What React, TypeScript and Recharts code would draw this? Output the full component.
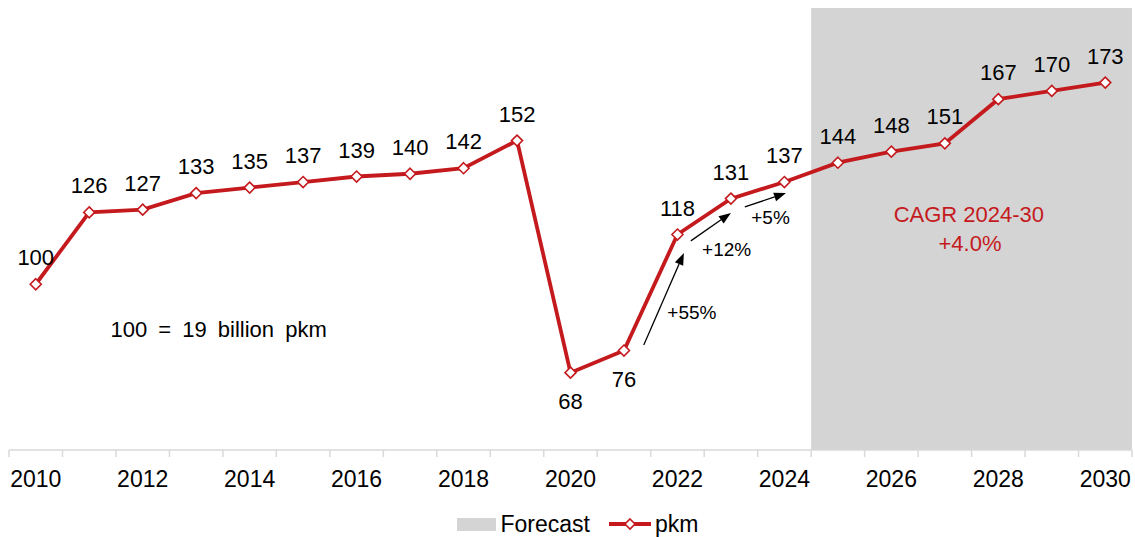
import {
  ComposedChart,
  Line,
  XAxis,
  YAxis,
  ReferenceArea,
  ReferenceLine,
  ReferenceDot,
  LabelList,
  Legend,
} from "recharts";

const years = [
  2010, 2011, 2012, 2013, 2014, 2015, 2016, 2017, 2018, 2019, 2020, 2021, 2022,
  2023, 2024, 2025, 2026, 2027, 2028, 2029, 2030,
];
const pkm = [
  100, 126, 127, 133, 135, 137, 139, 140, 142, 152, 68, 76, 118, 131, 137, 144,
  148, 151, 167, 170, 173,
];
const yearLabels = [2010, 2012, 2014, 2016, 2018, 2020, 2022, 2024, 2026, 2028, 2030];
const forecastYears = [2025, 2026, 2027, 2028, 2029, 2030];
const labelsBelow = [2020, 2021];

// growth arrows, in data coordinates (year, index value)
const growthArrows = [
  { label: "+55%", from: [2021.37, 78], to: [2022.12, 111.3], at: [2022.27, 89.6] },
  { label: "+12%", from: [2022.25, 115.7], to: [2023.0, 125.8], at: [2022.92, 112.4] },
  { label: "+5%", from: [2023.26, 128], to: [2024.03, 133], at: [2023.74, 124] },
];

const RED = "#C41A1E";
const SHADE = "#D4D4D4";
const AXIS = "#D9D9D9";
const FONT = "'Liberation Sans', Arial, Helvetica, sans-serif";

const data = years.map((year, i) => ({ year, pkm: pkm[i] }));
const tickValues = [
  ...years.map((y) => y - 0.5),
  years[years.length - 1] + 0.5,
  ...yearLabels,
].sort((a, b) => a - b);

function YearTick(props: any) {
  const { x, y, payload } = props;
  if (Number.isInteger(payload.value)) {
    return (
      <text x={x} y={y + 37} textAnchor="middle" fontSize={23} fill="#000">
        {payload.value}
      </text>
    );
  }
  return <line x1={x} x2={x} y1={y} y2={y + 7} stroke={AXIS} strokeWidth={1.5} />;
}

function Diamond(props: any) {
  const { cx, cy } = props;
  if (cx == null || cy == null) return null;
  const r = 5.5;
  return (
    <path
      d={`M${cx},${cy - r} L${cx + r},${cy} L${cx},${cy + r} L${cx - r},${cy} Z`}
      fill="#fff"
      stroke={RED}
      strokeWidth={1.6}
    />
  );
}

function ValueLabel(props: any) {
  const { x, y, value, index } = props;
  const below = labelsBelow.includes(years[index]);
  return (
    <text
      x={x}
      y={below ? y + 36 : y - 19}
      textAnchor="middle"
      fontSize={22}
      fill="#000"
    >
      {value}
    </text>
  );
}

function Arrow(props: any) {
  const { x1, y1, x2, y2 } = props;
  if ([x1, y1, x2, y2].some((v) => v == null)) return null;
  const ang = Math.atan2(y2 - y1, x2 - x1);
  const len = 12;
  const half = 4.5;
  const bx = x2 - len * Math.cos(ang);
  const by = y2 - len * Math.sin(ang);
  const px = -Math.sin(ang) * half;
  const py = Math.cos(ang) * half;
  return (
    <g>
      <line x1={x1} y1={y1} x2={bx} y2={by} stroke="#000" strokeWidth={1.3} />
      <path d={`M${x2},${y2} L${bx + px},${by + py} L${bx - px},${by - py} Z`} fill="#000" />
    </g>
  );
}

function textShape(text: string, size: number, color: string, extra: any = {}) {
  return (p: any) => (
    <text
      x={p.cx}
      y={p.cy}
      textAnchor="middle"
      dominantBaseline="central"
      fontSize={size}
      fill={color}
      {...extra}
    >
      {text}
    </text>
  );
}

function LegendBox() {
  return (
    <div
      style={{
        height: 47,
        boxSizing: "border-box",
        paddingTop: 21,
        display: "flex",
        alignItems: "center",
        justifyContent: "center",
        fontFamily: FONT,
        fontSize: 23,
        color: "#000",
        marginLeft: 14,
      }}
    >
      <span style={{ width: 39, height: 13, background: SHADE, marginRight: 5 }} />
      <span style={{ marginRight: 19 }}>Forecast</span>
      <svg width={42} height={14} style={{ marginRight: 4 }}>
        <line x1={0} x2={42} y1={7} y2={7} stroke={RED} strokeWidth={4} />
        <path d="M21,2 L26,7 L21,12 L16,7 Z" fill="#fff" stroke={RED} strokeWidth={1.6} />
      </svg>
      <span>pkm</span>
    </div>
  );
}

export default function App() {
  return (
    <div style={{ position: "absolute", left: 0, top: 0, width: 1135, height: 537, fontFamily: FONT }}>
      <ComposedChart
        width={1135}
        height={537}
        data={data}
        margin={{ top: 8, right: 3, bottom: 0, left: 9 }}
        style={{ fontFamily: FONT }}
      >
        <ReferenceArea
          x1={forecastYears[0] - 0.5}
          x2={forecastYears[forecastYears.length - 1] + 0.5}
          y1={40}
          y2={200}
          fill={SHADE}
          fillOpacity={1}
          stroke="none"
        />
        <XAxis
          dataKey="year"
          type="number"
          domain={[2009.5, 2030.5]}
          ticks={tickValues}
          interval={0}
          tickSize={0}
          tickMargin={0}
          tickLine={false}
          axisLine={{ stroke: AXIS, strokeWidth: 1.5 }}
          tick={<YearTick />}
          height={40}
        />
        <YAxis hide domain={[40, 200]} />
        <Legend verticalAlign="bottom" content={() => <LegendBox />} />

        {growthArrows.map((a) => (
          <ReferenceLine
            key={a.label}
            segment={[
              { x: a.from[0], y: a.from[1] },
              { x: a.to[0], y: a.to[1] },
            ]}
            ifOverflow="visible"
            shape={(p: any) => <Arrow {...p} />}
          />
        ))}
        {growthArrows.map((a) => (
          <ReferenceDot
            key={a.label + "-t"}
            x={a.at[0]}
            y={a.at[1]}
            r={1}
            ifOverflow="visible"
            shape={textShape(a.label, 19, "#000")}
          />
        ))}
        <ReferenceDot
          x={2013.42}
          y={83.8}
          r={1}
          ifOverflow="visible"
          shape={textShape("100 = 19 billion pkm", 22, "#000", { wordSpacing: 5 })}
        />
        <ReferenceDot
          x={2027.45}
          y={125.1}
          r={1}
          ifOverflow="visible"
          shape={textShape("CAGR 2024-30", 22, RED)}
        />
        <ReferenceDot
          x={2027.47}
          y={114.9}
          r={1}
          ifOverflow="visible"
          shape={textShape("+4.0%", 22, RED)}
        />

        <Line
          type="linear"
          dataKey="pkm"
          name="pkm"
          stroke={RED}
          strokeWidth={3.8}
          dot={<Diamond />}
          activeDot={false}
          isAnimationActive={false}
        >
          <LabelList dataKey="pkm" content={<ValueLabel />} />
        </Line>
      </ComposedChart>
    </div>
  );
}
